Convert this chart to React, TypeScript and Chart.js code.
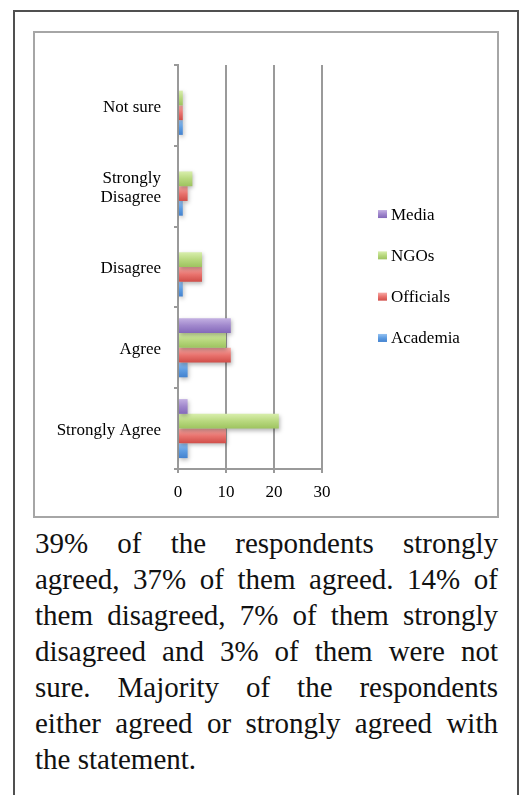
import React, { useEffect, useRef } from 'react';
import { Chart, registerables } from 'chart.js';

Chart.register(...registerables);

// ---- data ----
const categories: (string | string[])[] = ['Strongly Agree', 'Agree', 'Disagree', ['Strongly', 'Disagree'], 'Not sure'];
const seriesNames = ['Media', 'NGOs', 'Officials', 'Academia'];
const media = [2, 11, 0, 0, 0];
const ngos = [21, 10, 5, 3, 1];
const officials = [10, 11, 5, 2, 1];
const academia = [2, 2, 1, 1, 1];
const xTicks = [0, 10, 20, 30];

const paragraphLines = [
  '39% of the respondents strongly',
  'agreed, 37% of them agreed. 14% of',
  'them disagreed, 7% of them strongly',
  'disagreed and 3% of them were not',
  'sure. Majority of the respondents',
  'either agreed or strongly agreed with',
  'the statement.',
];

// ---- styles ----
const seriesColors = [
  ['#c3b0e2', '#a087cc', '#8368b9'],
  ['#d8eeac', '#b8d87e', '#9dc35f'],
  ['#f7aaa6', '#e9736e', '#d04d48'],
  ['#95c2f1', '#5e9de2', '#4382cf'],
];
const FONT = 'Liberation Serif';
const tickFont = { family: FONT, size: 17, lineHeight: 1.1 };
const axisGray = '#9a9a9a';

function barFill(c: any, i: number) {
  const stops = seriesColors[i];
  const el = c.element;
  if (!el || typeof el.y !== 'number' || !isFinite(el.y) || !el.height) return stops[1];
  const g = c.chart.ctx.createLinearGradient(0, el.y - el.height / 2, 0, el.y + el.height / 2);
  g.addColorStop(0, stops[0]);
  g.addColorStop(0.5, stops[1]);
  g.addColorStop(1, stops[2]);
  return g;
}

const shadowPlugin = {
  id: 'barShadow',
  beforeDatasetsDraw(chart: any) {
    const ctx = chart.ctx;
    ctx.save();
    ctx.shadowColor = 'rgba(0,0,0,0.28)';
    ctx.shadowBlur = 4;
    ctx.shadowOffsetX = 1;
    ctx.shadowOffsetY = 2;
  },
  afterDatasetsDraw(chart: any) {
    chart.ctx.restore();
  },
};

const legendPlugin = {
  id: 'sideLegend',
  afterDraw(chart: any) {
    const { ctx, chartArea } = chart;
    const ds = chart.data.datasets;
    const spacing = 41.3;
    const x = chartArea.right + 56;
    const cy = chart.height / 2 + 1.5;
    ctx.save();
    ds.forEach((d: any, k: number) => {
      const y = cy + (k - (ds.length - 1) / 2) * spacing;
      const stops = seriesColors[k];
      const g = ctx.createLinearGradient(0, y - 4, 0, y + 4);
      g.addColorStop(0, stops[0]);
      g.addColorStop(0.5, stops[1]);
      g.addColorStop(1, stops[2]);
      ctx.fillStyle = g;
      ctx.fillRect(x, y - 4, 9, 8);
      ctx.fillStyle = '#000';
      ctx.font = `17px "${FONT}"`;
      ctx.textBaseline = 'middle';
      ctx.textAlign = 'left';
      ctx.fillText(d.label, x + 13, y + 1);
    });
    ctx.restore();
  },
};

export default function App() {
  const ref = useRef<HTMLCanvasElement>(null);

  useEffect(() => {
    const canvas = ref.current;
    if (!canvas) return;
    const datasets = [media, ngos, officials, academia].map((d, i) => ({
      label: seriesNames[i],
      data: d,
      backgroundColor: (c: any) => barFill(c, i),
      borderWidth: 0,
      categoryPercentage: 0.73,
      barPercentage: 1,
    }));
    const chart = new Chart(canvas, {
      type: 'bar',
      data: { labels: categories as any, datasets },
      options: {
        indexAxis: 'y',
        responsive: false,
        animation: false,
        events: [],
        layout: { padding: { top: 32, right: 175, left: 0, bottom: 0 } },
        plugins: { legend: { display: false }, tooltip: { enabled: false } },
        scales: {
          x: {
            min: 0,
            max: 30,
            afterBuildTicks: (s: any) => {
              s.ticks = xTicks.map((v) => ({ value: v }));
            },
            ticks: { color: '#000', font: tickFont, padding: 10 },
            grid: { color: axisGray, lineWidth: 2, drawTicks: true, tickLength: 4, tickColor: axisGray },
            border: { color: axisGray, width: 2 },
            afterFit: (s: any) => {
              s.height = 47;
            },
          },
          y: {
            reverse: true,
            ticks: { color: '#000', font: tickFont, padding: 13, labelOffset: 2 },
            grid: { drawOnChartArea: false, drawTicks: true, tickLength: 4, color: axisGray, lineWidth: 2, offset: true },
            border: { color: axisGray, width: 2 },
            afterFit: (s: any) => {
              s.width = 143;
            },
          },
        },
      } as any,
      plugins: [shadowPlugin, legendPlugin],
    });
    chart.update();
    return () => chart.destroy();
  }, []);

  return (
    <div>
      <div
        style={{
          position: 'absolute',
          left: 13,
          top: 10,
          width: 506,
          height: 785,
          borderTop: '2px solid #505050',
          borderLeft: '2px solid #505050',
          borderRight: '2px solid #505050',
          boxSizing: 'border-box',
        }}
      />
      <div
        style={{
          position: 'absolute',
          left: 33,
          top: 31,
          width: 466,
          height: 487,
          border: '2px solid #a6a6a6',
          boxSizing: 'border-box',
          background: '#fff',
        }}
      >
        <canvas ref={ref} width={462} height={483} style={{ display: 'block', width: 462, height: 483 }} />
      </div>
      <div
        style={{
          position: 'absolute',
          left: 35,
          top: 525,
          width: 463,
          fontFamily: `"${FONT}", serif`,
          fontSize: 29,
          color: '#111',
        }}
      >
        {paragraphLines.map((line, i) => (
          <div
            key={i}
            style={{
              height: 36,
              lineHeight: '36px',
              whiteSpace: 'nowrap',
              textAlign: i < paragraphLines.length - 1 ? 'justify' : 'left',
              textAlignLast: i < paragraphLines.length - 1 ? 'justify' : 'left',
            } as any}
          >
            {line}
          </div>
        ))}
      </div>
    </div>
  );
}
